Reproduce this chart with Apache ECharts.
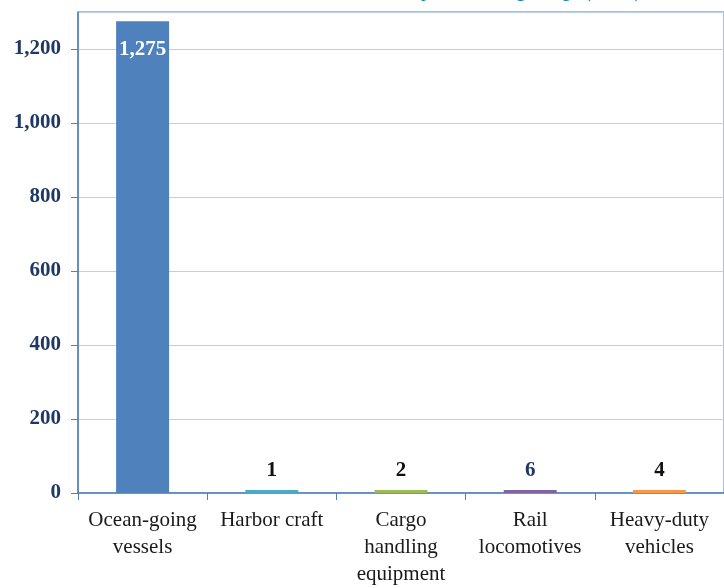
<!DOCTYPE html>
<html>
<head>
<meta charset="utf-8">
<script src="https://cdn.jsdelivr.net/npm/echarts@6/dist/echarts.min.js"></script>
<style>
  html, body { margin: 0; padding: 0; background: #fff; }
  #chart { width: 724px; height: 588px; }
</style>
</head>
<body>
<div id="chart"></div>
<script>
// source groups and emissions
const categories = ['Ocean-going\nvessels', 'Harbor craft', 'Cargo\nhandling\nequipment', 'Rail\nlocomotives', 'Heavy-duty\nvehicles']
const emissions = [1275, 1, 2, 6, 4]
const barColors = ['#4f81bd', '#4bacc6', '#9bbb59', '#8064a2', '#f79646']
const labelColors = ['#ffffff', '#111111', '#111111', '#1f3864', '#111111']
const titleText = 'DPM emissions by source group (tons)'

const serif = '"Liberation Serif", "DejaVu Serif", serif'

const chart = echarts.init(document.getElementById('chart'))

const option = {
  backgroundColor: '#ffffff',
  animation: false,
  title: {
    text: titleText,
    right: 74,
    top: -29,
    textStyle: {
      fontFamily: serif,
      fontStyle: 'italic',
      fontWeight: 'normal',
      fontSize: 26,
      color: '#17858d'
    }
  },
  grid: {
    left: 78,
    right: -6,
    top: 12,
    bottom: 95,
    show: true,
    borderColor: '#4f81bd',
    borderWidth: 1
  },
  xAxis: {
    type: 'category',
    data: categories,
    axisLine: { lineStyle: { color: '#4f81bd', width: 1.5 } },
    axisTick: { show: true, length: 7, lineStyle: { color: '#4f81bd' } },
    axisLabel: {
      interval: 0,
      margin: 14,
      fontFamily: serif,
      fontSize: 21,
      lineHeight: 27,
      color: '#1a1a1a'
    }
  },
  yAxis: {
    type: 'value',
    min: 0,
    max: 1300,
    interval: 200,
    axisLine: { show: true, lineStyle: { color: '#4f81bd', width: 1.5 } },
    axisTick: { show: true, length: 7, lineStyle: { color: '#4f81bd' } },
    splitLine: { lineStyle: { color: '#bdd0e9', width: 1 } },
    axisLabel: {
      showMaxLabel: false,
      margin: 17,
      fontFamily: serif,
      fontSize: 21,
      fontWeight: 'bold',
      color: '#1f3864',
      formatter: v => v.toLocaleString('en-US')
    }
  },
  series: [{
    type: 'bar',
    barWidth: '41%',
    barMinHeight: 3,
    data: emissions.map((v, i) => ({
      value: v,
      itemStyle: { color: barColors[i] },
      label: i === 0
        ? { position: 'insideTop', distance: 18, color: labelColors[i] }
        : { position: 'top', distance: 9, color: labelColors[i] }
    })),
    label: {
      show: true,
      fontFamily: serif,
      fontSize: 21,
      fontWeight: 'bold',
      formatter: p => p.value.toLocaleString('en-US')
    }
  }]
}

chart.setOption(option)
</script>
</body>
</html>
